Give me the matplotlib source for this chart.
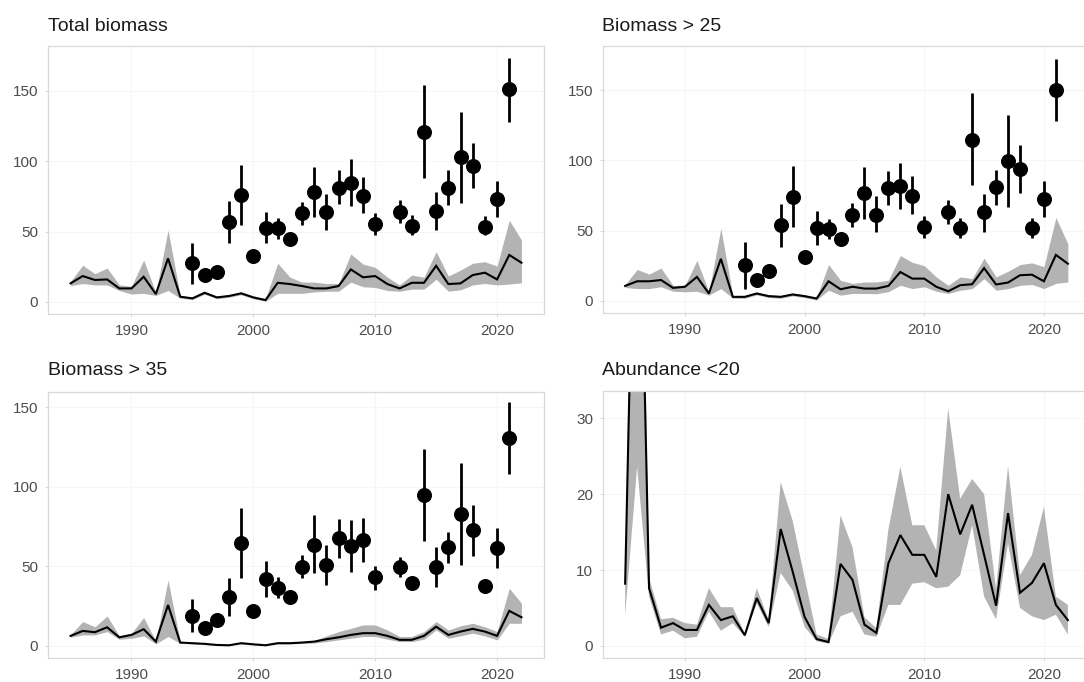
import numpy as np
import matplotlib
matplotlib.use("Agg")
import matplotlib.pyplot as plt

plt.rcParams['font.family'] = ['Liberation Sans', 'DejaVu Sans']

years = list(range(1985, 2023))
pt_years = list(range(1995, 2011)) + list(range(2012, 2022))

# ---- Total biomass ----
tb_line = [13.1, 18.3, 15.5, 15.9, 9.5, 9.5, 17.8, 5.5, 30.9, 3.6,
           2.4, 6.4, 3.1, 4.1, 6.0, 3.1, 1.2, 13.5, 12.6, 11.2,
           9.5, 9.5, 11.2, 23.0, 17.4, 18.3, 12.6, 9.5, 13.5, 13.5,
           25.6, 12.6, 13.1, 19.0, 20.7, 15.9, 33.3, 27.8]
tb_up = [14.5, 26, 20, 24, 12, 11, 29.7, 6.5, 51, 4.5,
         3.4, 7.4, 4.1, 5.1, 7, 4.1, 2.2, 27.4, 17.5, 14,
         14, 13, 13, 34, 26.8, 24.5, 17.5, 12, 19, 17.5,
         35.6, 18.3, 22.6, 27.4, 28.5, 25.4, 58, 44]
tb_lo = [11.5, 13, 12, 12, 8, 5.5, 6, 4.5, 8, 2.6,
         1.5, 5.4, 2.2, 3.2, 5, 2.2, 0.4, 6, 6, 6,
         7, 7.5, 7.5, 14, 10.7, 10.2, 8, 7.5, 9, 9,
         16, 7.5, 8.5, 12, 13, 12, 12.6, 13.5]
tb_pt = [27.3, 18.8, 21.4, 57, 76, 32.5, 52.5, 52.5, 44.7, 63, 78, 64, 81.2,
         84.8, 75.5, 55, 64, 54, 121, 64.8, 81, 103, 96.6, 53.4, 73, 151.3]
tb_pt_lo = [12.6, 16, 19, 42, 54.6, 30, 41.5, 45, 42, 54.6, 60.5, 51, 69.6,
            68.2, 63, 47.5, 56, 47.5, 88, 51, 69, 70.5, 80.8, 47.5, 60.5, 128]
tb_pt_hi = [41.7, 21.5, 24, 72, 97.4, 35, 64, 59.6, 47.5, 71, 96, 77, 93.8,
            101.4, 89, 63, 72.4, 61.8, 154, 78, 93.8, 135, 112.8, 60.9, 86, 173.4]

# ---- Biomass > 25 ----
b25_line = [10.6, 13.9, 13.9, 14.8, 9.2, 10, 17, 5.2, 29.9, 2.8,
            2.8, 5.2, 3.3, 2.8, 4.5, 3.3, 1.6, 13.9, 8.2, 10,
            8.7, 8.7, 10.6, 20.5, 15.8, 15.8, 10, 6.8, 11.1, 11.8,
            23.3, 11.6, 13, 18.2, 18.6, 13.9, 32.7, 26.4]
b25_up = [11.5, 22.3, 19, 23.3, 11, 11, 28.7, 6.5, 51.6, 3.8,
          3.8, 6.2, 4.3, 3.8, 5.5, 4.3, 2.6, 25.8, 14.6, 12.4,
          13.4, 13.4, 14.6, 32.2, 27.4, 25, 17, 11, 17, 15.8,
          30.4, 17, 21, 25.8, 27, 24.3, 59.3, 40.5]
b25_lo = [9.5, 8.7, 8.7, 10, 6.8, 6.4, 6.8, 4, 8.7, 1.8,
          1.8, 4.2, 2.3, 1.8, 3.5, 2.3, 0.6, 7.5, 4, 5.2,
          5.2, 5, 6.5, 11, 8.7, 10, 6.8, 5.2, 7.5, 8.7,
          15.8, 7.5, 8.7, 11, 11.6, 8.7, 12.4, 13.4]
b25_pt = [25.2, 15, 20.9, 53.9, 74.2, 31.5, 52, 51.1, 44, 61.2, 77, 61.2, 80.6,
          81.7, 74.6, 52.7, 63.6, 52, 114.7, 62.9, 81, 99.4, 94, 52, 72.3, 150.5]
b25_pt_lo = [8.2, 13, 19, 38.2, 52.3, 29, 39.8, 44, 42, 52.3, 58.6, 49.2, 68,
             65.7, 61.7, 44.5, 54.6, 44.5, 82.2, 49.2, 68, 67.1, 77, 44.5, 60, 128.3]
b25_pt_hi = [41.7, 17, 23, 68.8, 96.3, 34, 64, 58, 46, 70, 95, 74.6, 92.3,
             98.2, 88.8, 60.5, 71.6, 59.2, 147.7, 75.8, 93.5, 132.4, 111, 59, 85.2, 172.4]

# ---- Biomass > 35 ----
b35_line = [6.3, 9.4, 8.6, 11.7, 5.4, 6.9, 10.5, 2.7, 25.7, 2.1,
            1.7, 1.3, 0.6, 0.4, 1.7, 1.0, 0.4, 1.7, 1.7, 2.1,
            2.7, 4.2, 5.4, 6.9, 8.0, 8.0, 6.3, 3.8, 3.8, 6.3,
            12.1, 6.9, 9.0, 10.7, 9.0, 6.3, 22, 18]
b35_up = [7, 15.3, 12, 18.8, 6.3, 8, 17.8, 3, 41.4, 2.6,
          2.2, 1.8, 1.1, 0.9, 2.2, 1.5, 0.9, 2.2, 2.2, 2.6,
          3.5, 6.3, 9, 11, 13.2, 13.2, 10, 5.9, 5.9, 9,
          15.3, 10, 12.6, 14.2, 12, 9, 36.2, 26.8]
b35_lo = [5.5, 6.9, 6.9, 9, 4.2, 4.8, 6.3, 1.3, 5.9, 1.6,
          1.2, 0.8, 0.2, 0.1, 1.2, 0.5, 0.1, 1.2, 1.2, 1.6,
          1.8, 2.7, 3.8, 4.8, 5.9, 5.9, 4.2, 2.7, 2.7, 4.2,
          10, 4.8, 6.3, 8, 6.3, 3.8, 14.2, 14.2]
b35_pt = [18.8, 11.5, 16.3, 30.6, 64.5, 22, 41.9, 36.6, 31, 49.8, 63.4, 50.8, 67.6,
          62.8, 66.5, 43.1, 49.8, 39.7, 94.8, 49.8, 62, 82.9, 72.8, 37.7, 61.3, 130.8]
b35_pt_lo = [9, 10, 14, 18.8, 42.5, 20, 31, 30, 29, 42.5, 45.6, 38.3, 55,
             46.6, 53, 35.2, 43, 35, 66, 36.8, 51.9, 50.8, 56.5, 35, 48.8, 108]
b35_pt_hi = [29.3, 13, 18.5, 42.5, 86.4, 24, 53.4, 43.5, 33, 57, 82.2, 63.4, 79.5,
             79.1, 80.2, 50.2, 56, 43.5, 124, 62.3, 71.8, 114.7, 88.5, 40, 73.9, 153.4]

# ---- Abundance < 20 ----
ab_line = [8.2, 80, 7.6, 2.4, 3.0, 2.1, 2.1, 5.4, 3.4, 3.9,
           1.4, 6.3, 3.0, 15.4, 9.8, 3.8, 0.9, 0.5, 10.8, 8.7,
           2.8, 1.7, 10.9, 14.6, 12, 12, 9.1, 20, 14.7, 18.6,
           12, 5.3, 17.5, 7, 8.3, 10.9, 5.4, 3.4]
ab_up = [8.5, 100, 9, 3.5, 3.7, 3, 2.8, 7.6, 5.1, 5.1,
         1.6, 7.6, 3.4, 21.6, 16.5, 9, 1.5, 0.9, 17.2, 13,
         3.8, 2.3, 15.3, 23.6, 15.9, 15.9, 12.6, 31.3, 19.4, 22,
         20, 7.5, 23.7, 9.3, 12, 18.3, 6.5, 5.4]
ab_lo = [4, 23.6, 6.5, 1.5, 2, 1, 1.2, 4.5, 2, 3,
         1.2, 5.6, 2.5, 9.6, 7.3, 2.5, 0.6, 0.3, 3.9, 4.5,
         1.5, 1.2, 5.4, 5.4, 8.2, 8.4, 7.6, 7.8, 9.3, 15.9,
         6.5, 3.5, 13.5, 5, 3.9, 3.4, 4.1, 1.5]

titles = ["Total biomass", "Biomass > 25", "Biomass > 35", "Abundance <20"]
x_ticks = [1990, 2000, 2010, 2020]

W, H = 1084, 682
fig = plt.figure(figsize=(W / 100, H / 100), dpi=100)

def rect(l, r, t, b):
    return [l / W, 1 - b / H, (r - l) / W, (b - t) / H]

axes = [
    fig.add_axes(rect(48, 544, 46, 314)),
    fig.add_axes(rect(603, 1090, 46, 313)),
    fig.add_axes(rect(48, 544, 392, 658)),
    fig.add_axes(rect(603, 1090, 391, 658)),
]

panels = [
    (tb_line, tb_up, tb_lo, tb_pt, tb_pt_lo, tb_pt_hi, (-8.7, 182), [0, 50, 100, 150]),
    (b25_line, b25_up, b25_lo, b25_pt, b25_pt_lo, b25_pt_hi, (-8.7, 181.5), [0, 50, 100, 150]),
    (b35_line, b35_up, b35_lo, b35_pt, b35_pt_lo, b35_pt_hi, (-7.6, 159.5), [0, 50, 100, 150]),
    (ab_line, ab_up, ab_lo, None, None, None, (-1.6, 33.6), [0, 10, 20, 30]),
]

title_pos = [(48, 31), (602, 31), (48, 375), (602, 375)]

for i, (ax, p) in enumerate(zip(axes, panels)):
    line, up, lo, pt, plo, phi, ylim, yt = p
    ax.set_xlim(1983.15, 2023.85)
    ax.set_ylim(*ylim)
    ax.set_xticks(x_ticks)
    ax.set_yticks(yt)
    ax.grid(True, color='#f6f6f6', lw=0.8, zorder=0)
    ax.set_axisbelow(True)
    ax.fill_between(years, lo, up, color='#b3b3b3', lw=0, zorder=1)
    ax.plot(years, line, color='black', lw=1.5, zorder=2, solid_joinstyle='miter')
    if pt is not None:
        ax.vlines(pt_years, plo, phi, color='black', lw=2.0, zorder=3)
        ax.plot(pt_years, pt, 'o', color='black', ms=9.8, zorder=4)
    for s in ax.spines.values():
        s.set_color('#d9d9d9')
        s.set_linewidth(0.9)
    ax.tick_params(axis='both', colors='#d0d0d0', labelcolor='#4d4d4d',
                   labelsize=11, length=2.5, width=0.6, pad=4.5)
    tx, ty = title_pos[i]
    fig.text(tx / W, 1 - ty / H, titles[i], fontsize=14, color='#1a1a1a',
             ha='left', va='baseline')

# slightly more visible grid lines as seen in the reference
axes[0].axvline(2010, color='#e4e4e4', lw=0.8, zorder=0)
axes[2].axvline(2010, color='#e4e4e4', lw=0.8, zorder=0)
axes[1].axhline(150, color='#e4e4e4', lw=0.8, zorder=0)

fig.savefig("out.png", dpi=100)
